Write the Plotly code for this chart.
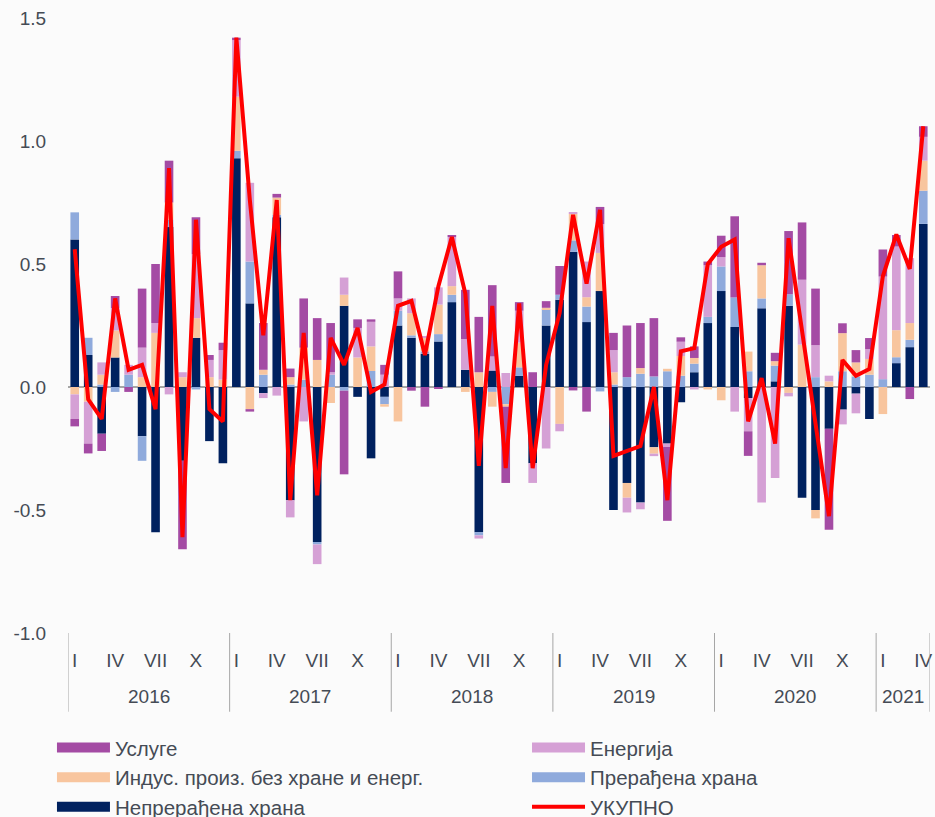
import plotly.graph_objects as go

years = ["2016", "2017", "2018", "2019", "2020", "2021"]
months_per_year = [12, 12, 12, 12, 12, 4]
month_tick_labels = ["I", "IV", "VII", "X"]
month_tick_offsets = [0, 3, 6, 9]
y_tick_values = [-1.0, -0.5, 0.0, 0.5, 1.0, 1.5]
y_tick_labels = ["-1.0", "-0.5", "0.0", "0.5", "1.0", "1.5"]

# Непрерађена храна
nepr = [0.60, 0.13, -0.19, 0.12, 0.00, -0.20, -0.59, 0.65, -0.30, 0.20, -0.22, -0.31,
        0.93, 0.34, -0.025, 0.69, -0.46, 0.00, -0.63, 0.00, 0.33, -0.04, -0.29, -0.04,
        0.25, 0.20, 0.135, 0.185, 0.345, 0.07, -0.59, 0.067, 0.00, 0.045, -0.31, 0.25,
        0.355, 0.55, 0.264, 0.39, -0.50, -0.39, -0.47, -0.245, -0.23, -0.062, 0.06, 0.26,
        0.39, 0.244, -0.045, 0.32, 0.023, 0.33, -0.45, -0.50, -0.17, -0.092, -0.027, -0.13,
        0.00, 0.097, 0.162, 0.663]
# Прерађена храна
prer = [0.11, 0.07, 0.01, -0.02, 0.05, -0.10, 0.00, 0.03, 0.00, -0.01, 0.00, 0.00,
        0.03, 0.17, 0.05, 0.01, 0.01, 0.03, -0.01, 0.05, -0.015, 0.00, 0.065, -0.03,
        0.06, 0.01, 0.01, 0.03, 0.03, 0.00, -0.013, -0.02, -0.07, 0.035, 0.00, 0.067,
        0.02, 0.046, 0.063, -0.018, 0.01, 0.04, 0.054, 0.043, 0.064, 0.046, 0.035, 0.025,
        0.10, 0.12, 0.064, 0.04, 0.064, 0.047, 0.00, 0.04, 0.00, 0.064, 0.043, 0.05,
        0.032, 0.024, 0.03, 0.135]
# Индус. произ. без хране и енерг.
indus = [-0.03, -0.06, 0.04, 0.11, 0.00, 0.04, 0.22, 0.07, 0.04, 0.08, 0.04, 0.03,
         0.22, -0.09, 0.02, 0.07, 0.03, 0.13, 0.11, -0.065, 0.045, 0.12, 0.10, -0.01,
         -0.14, 0.09, 0.055, 0.12, 0.035, -0.02, 0.06, -0.06, -0.01, 0.10, 0.00, 0.005,
         -0.15, 0.108, 0.038, 0.155, 0.05, -0.06, 0.023, -0.026, 0.01, 0.08, 0.023, -0.01,
         -0.054, 0.00, 0.08, 0.135, 0.018, -0.024, 0.172, -0.034, 0.023, 0.155, 0.057, 0.064,
         -0.11, 0.11, 0.068, 0.122]
# Енергија
energ = [-0.10, -0.17, 0.05, 0.09, 0.04, 0.12, 0.04, -0.03, 0.02, 0.26, 0.07, 0.12,
         0.23, 0.32, -0.02, -0.035, -0.07, -0.14, -0.08, 0.01, 0.07, 0.12, 0.10, 0.05,
         0.05, 0.06, 0.005, 0.07, 0.20, 0.125, -0.013, 0.057, 0.057, 0.13, -0.08, -0.25,
         -0.03, 0.007, 0.145, 0.117, 0.09, -0.06, -0.027, -0.01, -0.014, 0.058, -0.01, 0.21,
         0.038, -0.10, -0.135, -0.47, -0.37, -0.014, 0.264, 0.13, 0.023, -0.06, -0.08, 0.04,
         0.417, 0.34, 0.264, 0.097]
# Услуге
usl = [-0.03, -0.04, -0.07, 0.05, -0.02, 0.24, 0.24, 0.17, -0.36, 0.15, 0.02, 0.03,
       0.01, -0.01, 0.19, 0.015, 0.035, 0.20, 0.17, 0.20, -0.34, 0.035, 0.01, 0.04,
       0.11, -0.015, -0.08, -0.005, 0.005, 0.20, 0.225, 0.29, -0.31, 0.035, 0.06, 0.027,
       0.117, -0.014, -0.10, 0.07, 0.07, 0.21, 0.183, 0.237, -0.30, 0.018, 0.047, 0.015,
       0.087, 0.33, -0.10, 0.01, 0.034, 0.257, 0.233, 0.23, -0.41, 0.04, 0.05, 0.045,
       0.11, 0.047, -0.049, 0.043]
# УКУПНО
total = [0.56, -0.05, -0.13, 0.36, 0.07, 0.09, -0.09, 0.89, -0.61, 0.68, -0.09, -0.14,
         1.42, 0.76, 0.21, 0.76, -0.46, 0.22, -0.44, 0.20, 0.09, 0.24, -0.02, 0.01,
         0.33, 0.35, 0.13, 0.41, 0.61, 0.38, -0.32, 0.33, -0.33, 0.34, -0.33, 0.09,
         0.30, 0.70, 0.42, 0.72, -0.28, -0.26, -0.24, 0.00, -0.46, 0.145, 0.158, 0.50,
         0.57, 0.60, -0.14, 0.036, -0.23, 0.605, 0.22, -0.14, -0.525, 0.11, 0.046, 0.073,
         0.45, 0.62, 0.48, 1.06]

names = ["Непрерађена храна", "Прерађена храна", "Индус. произ. без хране и енерг.",
         "Енергија", "Услуге", "УКУПНО"]
colors = ["#00215F", "#8FAADC", "#F8C59E", "#D5A0D5", "#A44BA4", "#FF0000"]

x = list(range(len(total)))
TXT = "#454b55"
FONT = "Liberation Sans, Arial, sans-serif"

fig = go.Figure()
for vals, nm, col in zip([nepr, prer, indus, energ, usl], names[:5], colors[:5]):
    fig.add_trace(go.Bar(x=x, y=vals, name=nm, marker=dict(color=col, line=dict(width=0)),
                         showlegend=False))
fig.add_trace(go.Scatter(x=x, y=total, name=names[5], mode="lines",
                         line=dict(color=colors[5], width=4), showlegend=False))

# legend entries (two columns)
leg_cols = [
    [("Услуге", colors[4], 10), ("Индус. произ. без хране и енерг.", colors[2], 10),
     ("Непрерађена храна", colors[0], 10)],
    [("Енергија", colors[3], 10), ("Прерађена храна", colors[1], 10), ("УКУПНО", colors[5], 4)],
]
for ci, col_items in enumerate(leg_cols):
    for j, (nm, col, w) in enumerate(col_items):
        fig.add_trace(go.Scatter(x=[None], y=[None], mode="lines", name=nm,
                                 line=dict(color=col, width=w),
                                 legend="legend" if ci == 0 else "legend2",
                                 legendgroup=f"g{ci}{j}"))

# tick positions
tickvals, ticktext, starts = [], [], []
pos = 0
for yr, n in zip(years, months_per_year):
    starts.append(pos)
    for off, lab in zip(month_tick_offsets, month_tick_labels):
        if off < n:
            tickvals.append(pos + off)
            ticktext.append(lab)
    pos += n

shapes = []
for s in starts + [pos]:
    shapes.append(dict(type="line", xref="x", yref="paper", x0=s - 0.5, x1=s - 0.5,
                       y0=0, y1=-0.128, line=dict(color="#a6a6a6", width=1)))
annotations = []
for yr, s, n in zip(years, starts, months_per_year):
    annotations.append(dict(x=s + (n - 1) / 2, y=-0.104, xref="x", yref="paper", text=yr,
                            showarrow=False, yanchor="middle",
                            font=dict(size=19, color=TXT, family=FONT)))

leg_common = dict(orientation="v", xanchor="left", yanchor="top", itemwidth=53,
                  bgcolor="rgba(0,0,0,0)", traceorder="grouped", tracegroupgap=0,
                  font=dict(size=20.5, color=TXT, family=FONT), itemclick=False)

fig.update_layout(
    width=935, height=817,
    margin=dict(l=68, r=5, t=18, b=184, autoexpand=False),
    barmode="relative", bargap=0.36,
    paper_bgcolor="#fbfbfb", plot_bgcolor="#fbfbfb",
    font=dict(family=FONT, color=TXT, size=19),
    xaxis=dict(range=[-0.5, pos - 0.5], tickmode="array", tickvals=tickvals, ticktext=ticktext,
               showgrid=False, zeroline=False, showline=False, ticks="outside", ticklen=10,
               tickcolor="rgba(0,0,0,0)", tickfont=dict(size=19, color=TXT), automargin=False),
    yaxis=dict(range=[-1.0, 1.5], tickmode="array", tickvals=y_tick_values,
               ticktext=y_tick_labels, showgrid=False, zeroline=True, zerolinecolor="#a6a6a6",
               zerolinewidth=2, showline=False, ticks="outside", ticklen=17,
               tickcolor="rgba(0,0,0,0)", tickfont=dict(size=19, color=TXT),
               layer="above traces", automargin=False),
    shapes=shapes, annotations=annotations,
    legend=dict(x=-0.0186, y=-0.154, **leg_common),
    legend2=dict(x=0.5325, y=-0.154, **leg_common),
)

fig.write_html(
    "out.html",
    config={"displayModeBar": False},
    post_script="document.body.style.margin='0';document.body.style.padding='0';"
                "document.documentElement.style.overflow='hidden';"
                "document.body.style.background='#fbfbfb';",
)
